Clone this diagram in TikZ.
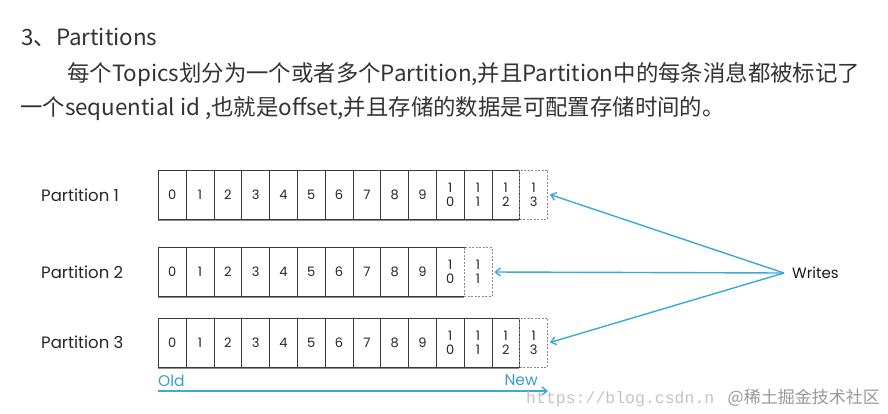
\documentclass[tikz,border=0pt]{standalone}
\usepackage{fontspec}
\setmainfont{Noto Sans CJK SC}
\newfontfamily\dfont{Poppins}
\newfontfamily\wmfont{Liberation Mono}
\newfontfamily\cjkfont{Noto Sans CJK SC}
\usetikzlibrary{arrows.meta}
\definecolor{wblue}{HTML}{3AA8DC}
\definecolor{oblue}{HTML}{3C9DCB}
\definecolor{boxgray}{HTML}{3A3A3A}
\definecolor{dashgray}{HTML}{8A8A8A}
\definecolor{txt}{HTML}{333333}
\definecolor{wmgray}{HTML}{C4C4C4}
\begin{document}
\begin{tikzpicture}[x=1pt,y=-1pt,
  para/.style={anchor=base west, inner sep=0pt, text=txt, font=\cjkfont\fontsize{22.4}{24}\selectfont},
  cell/.style={draw=boxgray, line width=0.8pt, fill=white, minimum width=27.8pt, minimum height=49pt, inner sep=0pt, align=center, text=black!85, font=\dfont\fontsize{13}{15}\selectfont},
  newcell/.style={cell, draw=dashgray, dash pattern=on 2pt off 1.5pt},
  plabel/.style={anchor=west, inner sep=0pt, text=black!85, font=\dfont\fontsize{16.5}{18}\selectfont},
  wline/.style={draw=wblue, line width=1.4pt, -{Straight Barb[length=5pt,width=8pt,line width=1.4pt]}},
  oldnew/.style={inner sep=0pt, text=oblue, font=\dfont\fontsize{15.5}{17}\selectfont},
  wm/.style={inner sep=0pt, text=wmgray}
]
\useasboundingbox (0,0) rectangle (888,413);
\fill[white] (0,0) rectangle (888,413);

\node[para] (title) at (21,45) {3、Partitions};
\node[para] (line2) at (67,81.5) {每个Topics划分为一个或者多个Partition,并且Partition中的每条消息都被标记了};
\node[para] (line3) at (20,115.5) {一个sequential id ,也就是offset,并且存储的数据是可配置存储时间的。};

\node[plabel] (lab1) at (41,195) {Partition 1};
\node[plabel] (lab2) at (41,272) {Partition 2};
\node[plabel] (lab3) at (41,342) {Partition 3};

\foreach \r/\y/\n in {1/194.5/13, 2/272/11, 3/342.5/13} {
  \fill[black!45] (157.5,\y-24.5+1.5) rectangle (158.3+27.8*\n-0.5,\y+24.5+1.6);
  \foreach \k in {0,...,\n} {
    \ifnum\k<10
      \def\lab{\k}
    \else
      \pgfmathtruncatemacro\u{\k-10}
      \def\lab{1\\[-1pt]\u}
    \fi
    \ifnum\k=\n
      \node[newcell] (p\r c\k) at (158.3+27.8*\k+13.9,\y) {\lab};
    \else
      \node[cell] (p\r c\k) at (158.3+27.8*\k+13.9,\y) {\lab};
    \fi
  }
}

\node[inner sep=0pt, anchor=west, text=black!90, font=\dfont\fontsize{15}{17}\selectfont] (writes) at (792,273) {Writes};
\coordinate (w) at (784,273);
\draw[wline] (w) -- ([xshift=2pt]p1c13.east);
\draw[wline] (w) -- ([xshift=2pt]p2c11.east);
\draw[wline] (w) -- ([xshift=2pt]p3c13.east);

\node[oldnew, anchor=west] (old) at (158,381) {Old};
\node[oldnew, anchor=east] (new) at (538,380) {New};
\coordinate (a0) at (158,391);
\coordinate (a1) at (548,391);
\draw[wline] (a0) -- (a1);

\node[wm, anchor=west, font=\wmfont\fontsize{16.5}{20}\selectfont] (wm1) at (526,399) {https://blog.csdn.n};
\node[wm, anchor=east, inner xsep=0pt, text=black!40, font=\cjkfont\fontsize{17}{20}\selectfont] (wm2) at (880,398) {@稀土掘金技术社区};
\end{tikzpicture}
\end{document}
